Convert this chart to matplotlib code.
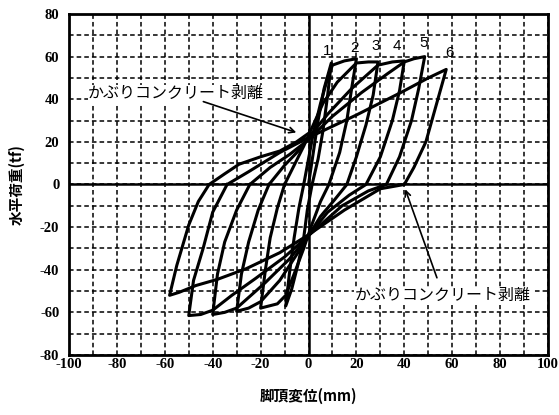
import matplotlib
matplotlib.use("Agg")
import matplotlib.pyplot as plt
from matplotlib.ticker import MultipleLocator

plt.rcParams['font.family'] = ['Liberation Serif', 'Noto Sans CJK JP']
plt.rcParams['font.weight'] = 'bold'
plt.rcParams['axes.unicode_minus'] = False

# hysteresis cycles, displacement (mm) / load (tf)
disp1 = [0, 2, 4, 6.5, 9.5, 8, 6, 4, 1.5, -0.5, -2, -4.5, -7, -9.5, -8, -6, -4, -2]
load1 = [0, 15, 30, 45, 57, 42, 25, 12, 0, -12, -25, -38, -49, -57, -42, -25, -11, 0]

disp2 = [-2, 0, 2, 5, 8, 10, 15, 20, 18, 16, 13, 8.5, 5, 1, -2, -6, -9.5, -13, -20,
         -18, -16, -13, -10]
load2 = [0, 12, 24, 38, 50, 56, 58, 59, 45, 30, 15, 0, -8, -20, -30, -42, -52, -56, -58,
         -40, -25, -11, 0]

disp3 = [-10, -6, -2, 2, 6, 12, 20, 25, 29, 27, 24, 20, 16, 11, 5, 0, -5, -12, -20, -25,
         -30, -28, -25, -21, -16.5]
load3 = [0, 9, 18, 28, 38, 48, 57, 57.5, 57.5, 42, 28, 13, 0, -7, -15, -24, -33, -45,
         -55, -58, -59.5, -42, -27, -12, 0]

disp4 = [-16.5, -10, -4, 0, 8, 18, 29, 35, 40, 38, 35, 30, 24, 17, 8, 0, -8, -18, -30,
         -35, -40, -38, -35, -30, -24.5]
load4 = [0, 9, 16, 22, 33, 45, 56, 57.5, 58, 44, 30, 13, 0, -5, -13, -24, -35, -46, -58,
         -60, -61, -42, -27, -12, 0]

disp5 = [-24.5, -16, -8, 0, 10, 22, 33, 40, 44, 48.5, 46, 43, 38, 32.5, 25, 14, 0, -10,
         -22, -32, -40, -45, -50, -48, -44, -40, -34]
load5 = [0, 8, 14, 21, 32, 43, 52, 57.5, 59, 60, 45, 30, 13, 0, -3, -10, -24, -34, -44,
         -52, -59, -61, -61.5, -45, -30, -13, 0]

disp6 = [-34, -25, -12, 0, 20, 39, 50, 57.5, 54, 49, 44, 40, 30, 15, 0, -12, -26, -38,
         -47, -54, -58, -55, -50, -46, -41.5, -35, -29, -20, -12, -5, 0]
load6 = [0, 6, 15, 22, 32.6, 43.4, 50, 54, 40, 20, 8, 0, -2, -12, -23.6, -32, -39.5,
         -44.5, -47.4, -50.6, -52, -38, -19, -8, 0, 5, 9.5, 13, 15.7, 20, 24]

cycles = [(disp1, load1), (disp2, load2), (disp3, load3),
          (disp4, load4), (disp5, load5), (disp6, load6)]

# peak labels
peak_labels = ['1', '2', '3', '4', '5', '6']
peak_label_x = [7.6, 19.4, 28.2, 36.8, 47.9, 59]
peak_label_y = [62.6, 64.2, 65, 65, 66.5, 61.9]

fig = plt.figure(figsize=(5.59, 4.15), dpi=100)
ax = fig.add_axes([0.1234, 0.1446, 0.857, 0.8217])

ax.set_xlim(-100, 100)
ax.set_ylim(-80, 80)
ax.xaxis.set_major_locator(MultipleLocator(20))
ax.yaxis.set_major_locator(MultipleLocator(20))
ax.xaxis.set_minor_locator(MultipleLocator(10))
ax.yaxis.set_minor_locator(MultipleLocator(10))
ax.grid(which='both', color='black', linestyle=(0, (3, 2)), linewidth=1.1)
ax.tick_params(which='both', length=0, labelsize=10.5)
ax.tick_params(axis='x', pad=2)
ax.tick_params(axis='y', pad=7)
for s in ax.spines.values():
    s.set_linewidth(2)

ax.axhline(0, color='black', lw=1.8, zorder=3)
ax.axvline(0, color='black', lw=1.8, zorder=3)

for d, f in cycles:
    ax.plot(d, f, color='black', lw=2.2, solid_joinstyle='round', zorder=4)

for t, x, y in zip(peak_labels, peak_label_x, peak_label_y):
    ax.text(x, y, t, family='Liberation Sans', fontweight='normal', fontsize=11,
            ha='center', va='center', zorder=5)

bbox = dict(facecolor='white', edgecolor='none', pad=0.5)
ax.text(-92, 42.6, 'かぶりコンクリート剥離', family='Noto Sans CJK JP',
        fontweight='normal', fontsize=11.5, ha='left', va='center', bbox=bbox, zorder=5)
ax.annotate('', xy=(-4, 24), xytext=(-45, 39.3),
            arrowprops=dict(arrowstyle='->', color='black', lw=1.2), zorder=5)
ax.text(19.4, -52.2, 'かぶりコンクリート剥離', family='Noto Sans CJK JP',
        fontweight='normal', fontsize=11.5, ha='left', va='center', bbox=bbox, zorder=5)
ax.annotate('', xy=(40, -1), xytext=(54, -45),
            arrowprops=dict(arrowstyle='->', color='black', lw=1.2), zorder=5)

ax.set_ylabel('水平荷重(tf)', family='Noto Sans CJK JP', fontweight='bold',
              fontsize=10.5, labelpad=11)
ax.set_xlabel('脚頂変位(mm)', family='Noto Sans CJK JP', fontweight='bold',
              fontsize=10.5, labelpad=12)

fig.savefig('out.png', dpi=100)
